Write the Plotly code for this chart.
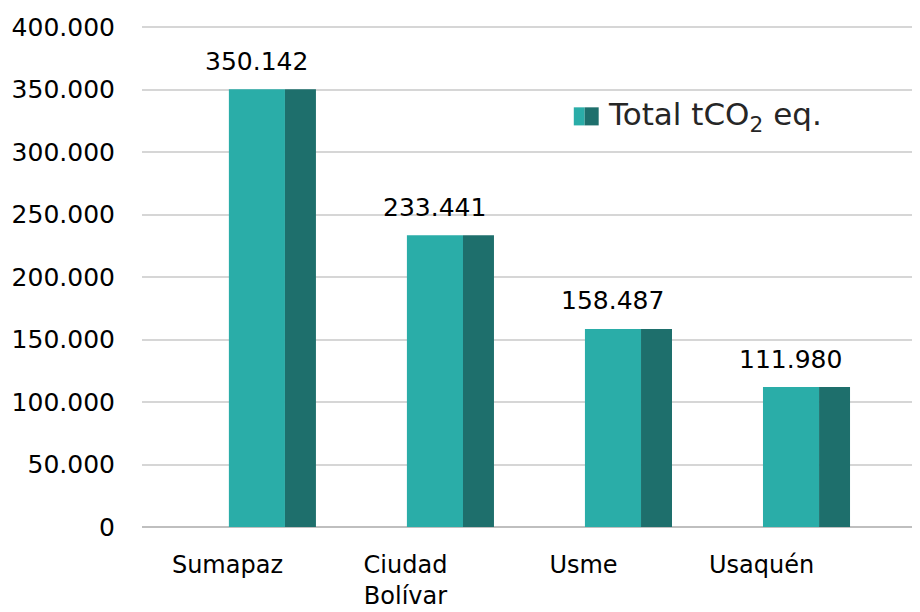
import plotly.graph_objects as go

# Emissions per locality (tCO2 eq.)
localities = ["Sumapaz", "Ciudad<br>Bolívar", "Usme", "Usaquén"]
emissions = [350142, 233441, 158487, 111980]
y_ticks = [0, 50000, 100000, 150000, 200000, 250000, 300000, 350000, 400000]

front_color = "#2AADA8"
side_color = "#1E6F6C"
idx = list(range(len(localities)))

fig = go.Figure()

# front face of the pseudo-3D bar
fig.add_bar(x=idx, y=emissions, offset=-0.242, width=0.315,
            marker=dict(color=front_color, line=dict(width=0)),
            showlegend=False, hoverinfo="skip")
# side face
fig.add_bar(x=idx, y=emissions, offset=0.073, width=0.174,
            marker=dict(color=side_color, line=dict(width=0)),
            showlegend=False, hoverinfo="skip")

# value labels over the front face
for i, v in zip(idx, emissions):
    fig.add_annotation(x=i - 0.085, y=v, text=f"{v:,}".replace(",", "."),
                       showarrow=False, yshift=28,
                       font=dict(size=25, color="#000000"))

# legend drawn by hand (two-tone swatch)
fig.add_shape(type="rect", xref="paper", yref="paper",
              x0=0.555, x1=0.569, y0=0.800, y1=0.836,
              fillcolor=front_color, line=dict(width=0))
fig.add_shape(type="rect", xref="paper", yref="paper",
              x0=0.569, x1=0.587, y0=0.800, y1=0.836,
              fillcolor=side_color, line=dict(width=0))
fig.add_annotation(xref="paper", yref="paper", x=0.597, y=0.818,
                   xanchor="left", yanchor="middle", showarrow=False,
                   text="Total tCO<sub>2</sub> eq.",
                   font=dict(size=31, color="#262626"))

# page body adds an 8px offset, so the figure is a bit smaller
fig.update_layout(
    width=912, height=604,
    margin=dict(l=134, r=0, t=17, b=85),
    plot_bgcolor="white", paper_bgcolor="white",
    separators=",.",
    font=dict(family="DejaVu Sans", size=25, color="#000000"),
    barmode="overlay",
)

fig.update_xaxes(range=[-0.73, 3.64], automargin=False,
                 tickvals=[i - 0.25 for i in idx], ticktext=localities,
                 tickfont=dict(size=24),
                 showgrid=False, zeroline=False, showline=False,
                 ticks="", ticklabelstandoff=21)
fig.update_yaxes(range=[0, 401600], tickvals=y_ticks, tickformat=",d",
                 automargin=False,
                 showgrid=True, gridcolor="#D6D6D6", gridwidth=2,
                 zeroline=True, zerolinecolor="#BFBFBF", zerolinewidth=2,
                 showline=False, ticks="", ticklabelstandoff=26)

fig.write_html("out.html")
